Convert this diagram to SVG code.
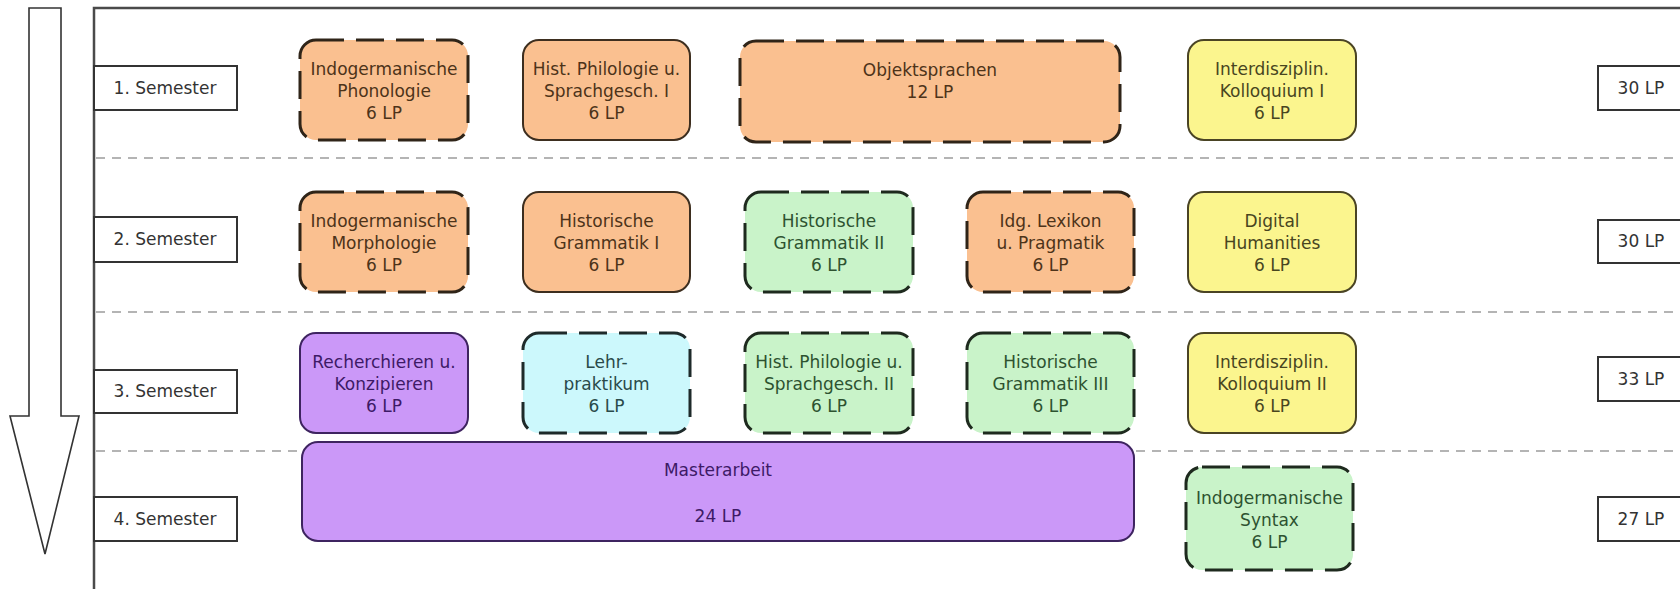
<svg xmlns="http://www.w3.org/2000/svg" width="1680" height="589" viewBox="0 0 1680 589">
<style>
text{font-family:"DejaVu Sans","Liberation Sans",Arial,sans-serif;font-size:17px;text-anchor:middle}
.frame{fill:none;stroke:#4a4a4a;stroke-width:2.5}
.sep{fill:none;stroke:#b4b4b4;stroke-width:2;stroke-dasharray:9 7}
.lbl{fill:#fff;stroke:#333;stroke-width:2}
.lblt{fill:#333}
.dash{stroke-width:3;stroke-dasharray:28 12}
.solid{stroke-width:2}
.or{fill:#fac090;stroke:#2f2418}
.or.solid{stroke:#3d2e1f}
.ort{fill:#4d3319}
.ye{fill:#fbf58e;stroke:#4a4424}
.yet{fill:#48451f}
.gr{fill:#c9f3c9;stroke:#1e2a1e}
.grt{fill:#2d5230}
.pu{fill:#cb98f8;stroke:#3e2460}
.put{fill:#3d1a66}
.cy{fill:#ccf8fc;stroke:#1e2a2a}
.cyt{fill:#2a4a4a}
</style>
<g id="frame">
<path class="frame" d="M94 589 V8 H1680"/>
<polygon points="29,8 61,8 61,416 79,416 45,554 10,416 29,416" fill="#fff" stroke="#333" stroke-width="1.6"/>
</g>
<g id="separators">
<line class="sep" x1="96" y1="158" x2="1680" y2="158"/>
<line class="sep" x1="96" y1="312" x2="1680" y2="312"/>
<line class="sep" x1="96" y1="451" x2="1680" y2="451"/>
</g>
<g id="semester-1"><rect class="lbl" x="94" y="66" width="143" height="44"/><text class="lblt" x="165" y="94">1. Semester</text></g>
<g id="semester-2"><rect class="lbl" x="94" y="217" width="143" height="45"/><text class="lblt" x="165" y="245">2. Semester</text></g>
<g id="semester-3"><rect class="lbl" x="94" y="370" width="143" height="43"/><text class="lblt" x="165" y="397">3. Semester</text></g>
<g id="semester-4"><rect class="lbl" x="94" y="497" width="143" height="44"/><text class="lblt" x="165" y="525">4. Semester</text></g>
<g id="lp-1"><rect class="lbl" x="1598" y="66" width="86" height="44"/><text class="lblt" x="1641" y="94">30 LP</text></g>
<g id="lp-2"><rect class="lbl" x="1598" y="220" width="86" height="43"/><text class="lblt" x="1641" y="247">30 LP</text></g>
<g id="lp-3"><rect class="lbl" x="1598" y="357" width="86" height="44"/><text class="lblt" x="1641" y="385">33 LP</text></g>
<g id="lp-4"><rect class="lbl" x="1598" y="497" width="86" height="44"/><text class="lblt" x="1641" y="525">27 LP</text></g>

<g id="phonologie"><rect class="or dash" x="300" y="40" width="168" height="100" rx="16"/>
<text class="ort" x="384" y="75">Indogermanische</text><text class="ort" x="384" y="97">Phonologie</text><text class="ort" x="384" y="119">6 LP</text></g>
<g id="histphil1"><rect class="or solid" x="523" y="40" width="167" height="100" rx="16"/>
<text class="ort" x="606.5" y="75">Hist. Philologie u.</text><text class="ort" x="606.5" y="97">Sprachgesch. I</text><text class="ort" x="606.5" y="119">6 LP</text></g>
<g id="objektsprachen"><rect class="or dash" x="740" y="41" width="380" height="101" rx="16"/>
<text class="ort" x="930" y="76">Objektsprachen</text><text class="ort" x="930" y="98">12 LP</text></g>
<g id="kolloquium1"><rect class="ye solid" x="1188" y="40" width="168" height="100" rx="16"/>
<text class="yet" x="1272" y="75">Interdisziplin.</text><text class="yet" x="1272" y="97">Kolloquium I</text><text class="yet" x="1272" y="119">6 LP</text></g>

<g id="morphologie"><rect class="or dash" x="300" y="192" width="168" height="100" rx="16"/>
<text class="ort" x="384" y="227">Indogermanische</text><text class="ort" x="384" y="249">Morphologie</text><text class="ort" x="384" y="271">6 LP</text></g>
<g id="histgramm1"><rect class="or solid" x="523" y="192" width="167" height="100" rx="16"/>
<text class="ort" x="606.5" y="227">Historische</text><text class="ort" x="606.5" y="249">Grammatik I</text><text class="ort" x="606.5" y="271">6 LP</text></g>
<g id="histgramm2"><rect class="gr dash" x="745" y="192" width="168" height="100" rx="16"/>
<text class="grt" x="829" y="227">Historische</text><text class="grt" x="829" y="249">Grammatik II</text><text class="grt" x="829" y="271">6 LP</text></g>
<g id="lexikon"><rect class="or dash" x="967" y="192" width="167" height="100" rx="16"/>
<text class="ort" x="1050.5" y="227">Idg. Lexikon</text><text class="ort" x="1050.5" y="249">u. Pragmatik</text><text class="ort" x="1050.5" y="271">6 LP</text></g>
<g id="digital"><rect class="ye solid" x="1188" y="192" width="168" height="100" rx="16"/>
<text class="yet" x="1272" y="227">Digital</text><text class="yet" x="1272" y="249">Humanities</text><text class="yet" x="1272" y="271">6 LP</text></g>

<g id="recherchieren"><rect class="pu solid" x="300" y="333" width="168" height="100" rx="16"/>
<text class="put" x="384" y="368">Recherchieren u.</text><text class="put" x="384" y="390">Konzipieren</text><text class="put" x="384" y="412">6 LP</text></g>
<g id="lehrpraktikum"><rect class="cy dash" x="523" y="333" width="167" height="100" rx="16"/>
<text class="cyt" x="606.5" y="368">Lehr-</text><text class="cyt" x="606.5" y="390">praktikum</text><text class="cyt" x="606.5" y="412">6 LP</text></g>
<g id="histphil2"><rect class="gr dash" x="745" y="333" width="168" height="100" rx="16"/>
<text class="grt" x="829" y="368">Hist. Philologie u.</text><text class="grt" x="829" y="390">Sprachgesch. II</text><text class="grt" x="829" y="412">6 LP</text></g>
<g id="histgramm3"><rect class="gr dash" x="967" y="333" width="167" height="100" rx="16"/>
<text class="grt" x="1050.5" y="368">Historische</text><text class="grt" x="1050.5" y="390">Grammatik III</text><text class="grt" x="1050.5" y="412">6 LP</text></g>
<g id="kolloquium2"><rect class="ye solid" x="1188" y="333" width="168" height="100" rx="16"/>
<text class="yet" x="1272" y="368">Interdisziplin.</text><text class="yet" x="1272" y="390">Kolloquium II</text><text class="yet" x="1272" y="412">6 LP</text></g>

<g id="masterarbeit"><rect class="pu solid" x="302" y="442" width="832" height="99" rx="16"/>
<text class="put" x="718" y="476">Masterarbeit</text><text class="put" x="718" y="522">24 LP</text></g>
<g id="syntax"><rect class="gr dash" x="1186" y="467" width="167" height="103" rx="16"/>
<text class="grt" x="1269.5" y="504">Indogermanische</text><text class="grt" x="1269.5" y="526">Syntax</text><text class="grt" x="1269.5" y="548">6 LP</text></g>
</svg>
